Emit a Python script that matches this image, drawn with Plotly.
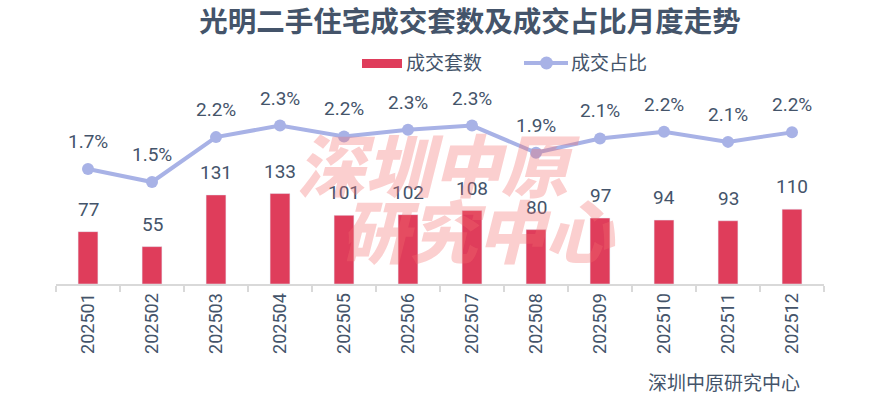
import plotly.graph_objects as go

months = ["202501", "202502", "202503", "202504", "202505", "202506",
          "202507", "202508", "202509", "202510", "202511", "202512"]
deals = [77, 55, 131, 133, 101, 102, 108, 80, 97, 94, 93, 110]
share = [1.69, 1.50, 2.16, 2.33, 2.17, 2.27, 2.33, 1.93, 2.14, 2.24, 2.09, 2.23]

title = "光明二手住宅成交套数及成交占比月度走势"
bar_name = "成交套数"
line_name = "成交占比"
source = "深圳中原研究中心"
watermark = ["深圳中原", "研究中心"]

BAR = "#DF3D5B"
LINE = "#A8B2E6"
TXT = "#44546A"
FONT = "Roboto, 'Noto Sans CJK SC', sans-serif"
CJK = "'Noto Sans CJK SC', sans-serif"

W, H = 894, 397
ML, MR, MT, MB = 56, 70, 80, 113
fx = lambda p: (p - ML) / (W - ML - MR)
fy = lambda p: (H - MB - p) / (H - MT - MB)

idx = list(range(len(months)))

fig = go.Figure()
fig.add_trace(go.Bar(x=idx, y=deals, name=bar_name, marker_color=BAR,
                     width=0.31, showlegend=False, hoverinfo="skip"))
fig.add_trace(go.Scatter(x=idx, y=share, name=line_name, yaxis="y2",
                         mode="lines+markers",
                         line=dict(color=LINE, width=4),
                         marker=dict(color=LINE, size=12), showlegend=False))

ann = []
for i, v in zip(idx, deals):
    ann.append(dict(x=i, y=v, xref="x", yref="y", text=str(v), showarrow=False,
                    yanchor="bottom", yshift=9, font=dict(size=19, color=TXT, family=FONT)))
for i, v in zip(idx, share):
    ann.append(dict(x=i, y=v, xref="x", yref="y2", text=f"{v:.1f}%", showarrow=False,
                    yanchor="bottom", yshift=14, font=dict(size=19, color=TXT, family=FONT)))

wm_font = dict(size=68, color="rgba(242,110,110,0.33)", family=CJK, weight=900, style="italic")
ann.append(dict(x=fx(438), y=fy(162), xref="paper", yref="paper", text=watermark[0],
                showarrow=False, xanchor="center", yanchor="middle", font=wm_font))
ann.append(dict(x=fx(478), y=fy(228), xref="paper", yref="paper", text=watermark[1],
                showarrow=False, xanchor="center", yanchor="middle", font=wm_font))

ann.append(dict(x=fx(405), y=fy(63), xref="paper", yref="paper", text=bar_name, showarrow=False,
                xanchor="left", yanchor="middle", borderpad=0,
                font=dict(size=19, color=TXT, family=FONT)))
ann.append(dict(x=fx(570), y=fy(63), xref="paper", yref="paper", text=line_name, showarrow=False,
                xanchor="left", yanchor="middle", borderpad=0,
                font=dict(size=19, color=TXT, family=FONT)))
ann.append(dict(x=fx(802), y=fy(383), xref="paper", yref="paper", text=source, showarrow=False,
                xanchor="right", yanchor="middle", font=dict(size=19, color=TXT, family=FONT)))

shapes = [
    dict(type="rect", xref="paper", yref="paper", x0=fx(362), x1=fx(402), y0=fy(59), y1=fy(68),
         fillcolor=BAR, line=dict(width=0)),
    dict(type="line", xref="paper", yref="paper", x0=fx(524), x1=fx(568), y0=fy(63), y1=fy(63),
         line=dict(color=LINE, width=4)),
    dict(type="circle", xref="paper", yref="paper", x0=fx(540), x1=fx(553), y0=fy(56.5), y1=fy(69.5),
         fillcolor=LINE, line=dict(width=0)),
]

fig.update_layout(
    width=W, height=H,
    margin=dict(l=ML, r=MR, t=MT, b=MB, autoexpand=False),
    paper_bgcolor="white", plot_bgcolor="white",
    title=dict(text=f"<b>{title}</b>", x=fx(470), xanchor="center", xref="paper",
               y=1 - 22 / H, yanchor="middle",
               font=dict(size=28.5, color=TXT, family=CJK)),
    xaxis=dict(range=[-0.5, len(months) - 0.5], showline=True, linecolor="#D9D9D9", linewidth=2,
               tickmode="array", tickvals=idx, ticktext=months, ticks="",
               tickangle=-90, tickfont=dict(size=18, color=TXT, family=FONT),
               showgrid=False, zeroline=False, automargin=False,
               minor=dict(tickmode="linear", tick0=-0.5, dtick=1, ticks="outside",
                          ticklen=6, tickcolor="#D9D9D9", tickwidth=2, showgrid=False)),
    yaxis=dict(range=[0, 300], visible=False, showgrid=False, automargin=False),
    yaxis2=dict(range=[0, 3.0], overlaying="y", visible=False, showgrid=False, automargin=False),
    annotations=ann,
    shapes=shapes,
    showlegend=False,
)

fig.write_html("out.html", config={"displayModeBar": False},
               post_script="document.body.style.margin='0';")
